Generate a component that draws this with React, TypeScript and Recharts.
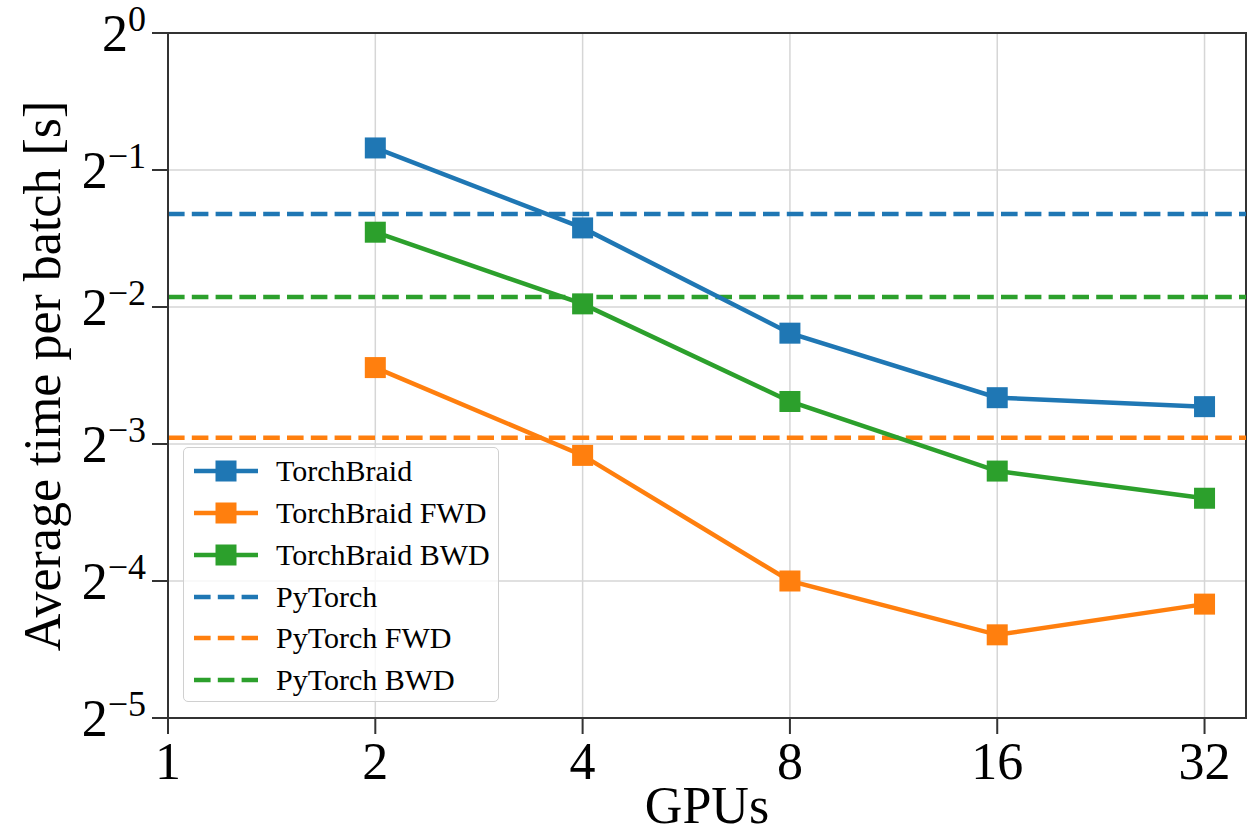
import React from "react";
import {
  LineChart,
  Line,
  XAxis,
  YAxis,
  CartesianGrid,
  ReferenceLine,
  ReferenceArea,
  Label,
} from "recharts";

const gpus = [2, 4, 8, 16, 32];
const torchBraid = [0.559, 0.373, 0.219, 0.158, 0.151];
const torchBraidFwd = [0.184, 0.118, 0.0625, 0.0476, 0.0556];
const torchBraidBwd = [0.365, 0.254, 0.155, 0.109, 0.095];
const pyTorch = 0.4;
const pyTorchFwd = 0.129;
const pyTorchBwd = 0.263;

const xTicks = [1, 2, 4, 8, 16, 32];
const yTicks = [1 / 32, 1 / 16, 1 / 8, 1 / 4, 1 / 2, 1];

const BLUE = "#1f77b4";
const ORANGE = "#ff7f0e";
const GREEN = "#2ca02c";
const FONT = "'Liberation Serif', 'DejaVu Serif', serif";

const toRows = (vals: number[]) => gpus.map((g, i) => ({ g, t: vals[i] }));

const solidSeries = [
  { name: "TorchBraid", color: BLUE, data: toRows(torchBraid) },
  { name: "TorchBraid FWD", color: ORANGE, data: toRows(torchBraidFwd) },
  { name: "TorchBraid BWD", color: GREEN, data: toRows(torchBraidBwd) },
];
const dashedSeries = [
  { name: "PyTorch", color: BLUE, y: pyTorch },
  { name: "PyTorch FWD", color: ORANGE, y: pyTorchFwd },
  { name: "PyTorch BWD", color: GREEN, y: pyTorchBwd },
];

const square = (color: string) => (props: any) => {
  const { cx, cy, index } = props;
  return (
    <rect key={index} x={cx - 10.5} y={cy - 10.5} width={21} height={21} fill={color} />
  );
};

const YTick = (props: any) => {
  const { x, y, payload } = props;
  const e = Math.round(Math.log2(payload.value));
  return (
    <text x={x} y={y + 18} textAnchor="end" fontFamily={FONT} fill="#000">
      <tspan fontSize={52}>2</tspan>
      <tspan fontSize={36} dy={-20}>
        {e === 0 ? "0" : "\u2212" + -e}
      </tspan>
    </text>
  );
};

const LegendBox = () => (
  <div
    style={{
      position: "absolute",
      left: 183,
      top: 447,
      width: 316,
      height: 255,
      boxSizing: "border-box",
      border: "1.5px solid #d0d0d0",
      borderRadius: 5,
      background: "rgba(255,255,255,0.8)",
      fontFamily: FONT,
      fontSize: 30,
      paddingTop: 2,
    }}
  >
    {solidSeries.map((s) => (
      <div key={s.name} style={{ display: "flex", alignItems: "center", height: 42 }}>
        <svg width={84} height={30} style={{ marginLeft: 8, flex: "none" }}>
          <line x1={2} x2={66} y1={15} y2={15} stroke={s.color} strokeWidth={4.5} />
          <rect x={23.5} y={4.5} width={21} height={21} fill={s.color} />
        </svg>
        <span style={{ whiteSpace: "nowrap" }}>{s.name}</span>
      </div>
    ))}
    {dashedSeries.map((s) => (
      <div key={s.name} style={{ display: "flex", alignItems: "center", height: 41.5 }}>
        <svg width={84} height={30} style={{ marginLeft: 8, flex: "none" }}>
          <line
            x1={2}
            x2={66}
            y1={15}
            y2={15}
            stroke={s.color}
            strokeWidth={4.5}
            strokeDasharray="16.6 7.2"
          />
        </svg>
        <span style={{ whiteSpace: "nowrap" }}>{s.name}</span>
      </div>
    ))}
  </div>
);

export default function App() {
  const xMax = Math.pow(2, 5.2);
  return (
    <div style={{ position: "absolute", left: 0, top: 0, width: 1249, height: 835, background: "#fff" }}>
      <LineChart width={1249} height={835} margin={{ top: 33, right: 3, left: 0, bottom: 0 }}>
        <CartesianGrid stroke="#d6d6d6" strokeWidth={1.5} />
        <XAxis
          dataKey="g"
          type="number"
          scale="log"
          domain={[1, xMax]}
          ticks={xTicks}
          allowDataOverflow
          height={117}
          tickSize={16}
          tickMargin={8}
          axisLine={{ stroke: "#333", strokeWidth: 2 }}
          tickLine={{ stroke: "#333", strokeWidth: 2 }}
          tick={{ fontSize: 52, fontFamily: FONT, fill: "#000" }}
        >
          <Label
            value="GPUs"
            position="insideBottom"
            offset={12}
            style={{ fontSize: 52, fontFamily: FONT, fill: "#000" }}
          />
        </XAxis>
        <YAxis
          type="number"
          scale="log"
          domain={[1 / 32, 1]}
          ticks={yTicks}
          allowDataOverflow
          width={168}
          tickSize={16}
          tickMargin={6}
          axisLine={{ stroke: "#333", strokeWidth: 2 }}
          tickLine={{ stroke: "#333", strokeWidth: 2 }}
          tick={<YTick />}
        >
          <Label
            content={() => (
              <text
                x={42}
                y={376}
                transform="rotate(-90 42 376)"
                textAnchor="middle"
                dominantBaseline="central"
                fontSize={52}
                fontFamily={FONT}
                fill="#000"
              >
                Average time per batch [s]
              </text>
            )}
          />
        </YAxis>
        <ReferenceArea x1={1} x2={xMax} y1={1 / 32} y2={1} fill="none" stroke="#333" strokeWidth={2} ifOverflow="visible" />
        {dashedSeries.map((s) => (
          <ReferenceLine
            key={s.name}
            y={s.y}
            stroke={s.color}
            strokeWidth={4.5}
            strokeDasharray="16.6 7.2"
          />
        ))}
        {solidSeries.map((s) => (
          <Line
            key={s.name}
            data={s.data}
            dataKey="t"
            stroke={s.color}
            strokeWidth={4.5}
            dot={square(s.color)}
            isAnimationActive={false}
          />
        ))}
      </LineChart>
      <LegendBox />
    </div>
  );
}
